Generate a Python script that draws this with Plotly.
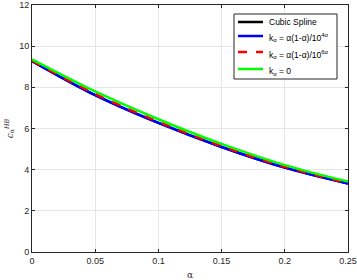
import plotly.graph_objects as go

alpha = [0, 0.05, 0.10, 0.15, 0.20, 0.25]
cubic = [9.28, 7.62, 6.27, 5.10, 4.10, 3.33]
k4 = [9.28, 7.62, 6.27, 5.10, 4.10, 3.33]
k6 = [9.30, 7.68, 6.33, 5.15, 4.14, 3.36]
k0 = [9.36, 7.80, 6.45, 5.25, 4.22, 3.42]

names = ["Cubic Spline",
         "k<sub>α</sub> = α(1-α)/10<sup>4α</sup>",
         "k<sub>α</sub> = α(1-α)/10<sup>6α</sup>",
         "k<sub>α</sub> = 0"]
colors = ["black", "#0000ff", "#ff0000", "#00ff00"]
dashes = ["solid", "solid", "dash", "solid"]
series = [cubic, k4, k6, k0]

fig = go.Figure()
for nm, ys, c, d in zip(names, series, colors, dashes):
    fig.add_trace(go.Scatter(x=alpha, y=ys, mode="lines", name=nm, showlegend=False,
                             line=dict(color=c, width=2.5, dash=d, shape="spline")))

axis_common = dict(showline=True, linecolor="#262626", linewidth=1, mirror="ticks",
                   ticks="inside", ticklen=3, tickcolor="#262626", automargin=False,
                   showgrid=True, gridcolor="#e6e6e6", gridwidth=1, zeroline=False,
                   tickfont=dict(family="Liberation Sans, Arial", size=9, color="#262626"))

fig.update_xaxes(range=[0, 0.25], tickvals=[0, 0.05, 0.1, 0.15, 0.2, 0.25],
                 ticktext=["0", "0.05", "0.1", "0.15", "0.2", "0.25"],
                 title=dict(text="α", font=dict(family="DejaVu Serif", size=9, color="#262626"),
                            standoff=8), **axis_common)
fig.update_yaxes(range=[0, 12], tickvals=[0, 2, 4, 6, 8, 10, 12],
                 title=dict(text="<i>c</i><sub>α</sub><sup><i>HB</i></sup>",
                            font=dict(family="DejaVu Serif", size=9, color="#262626"),
                            standoff=4), **axis_common)

# Legend box (drawn manually to match compact MATLAB-style legend spacing)
PL, PR, PT, PB = 32, 348, 5, 252
def px(x):
    return (x - PL) / (PR - PL)
def py(y):
    return (PB - y) / (PB - PT)

fig.add_shape(type="rect", xref="paper", yref="paper",
              x0=px(234), x1=px(337), y0=py(79), y1=py(14),
              line=dict(color="#262626", width=1), fillcolor="white", layer="above")
entry_y = [22, 36, 52, 69]
for nm, c, d, ey in zip(names, colors, dashes, entry_y):
    fig.add_shape(type="line", xref="paper", yref="paper",
                  x0=px(238), x1=px(263), y0=py(ey), y1=py(ey),
                  line=dict(color=c, width=2.5, dash=d), layer="above")
    shift = 0 if nm == names[0] else -2
    fig.add_annotation(xref="paper", yref="paper", x=px(267), y=py(ey),
                       xanchor="left", yanchor="middle", text=nm, showarrow=False,
                       yshift=shift,
                       font=dict(family="Liberation Sans, Arial", size=8.5, color="black"))

fig.update_layout(width=357, height=280, margin=dict(l=32, r=9, t=5, b=28),
                  plot_bgcolor="white", paper_bgcolor="white", showlegend=False)
fig.write_html("out.html", config={"displayModeBar": False},
               post_script="document.body.style.margin='0';document.body.style.padding='0';")
